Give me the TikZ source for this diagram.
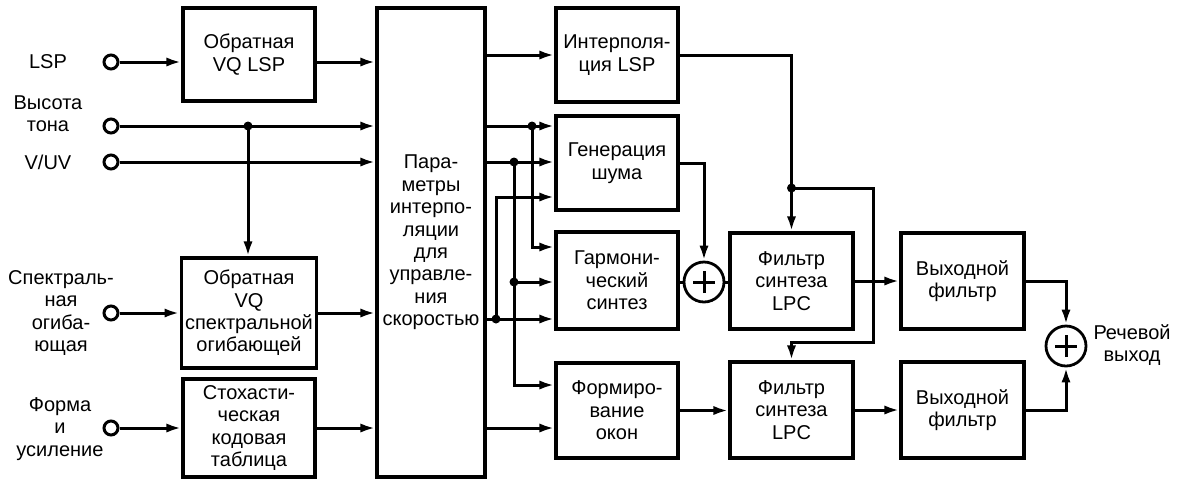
\documentclass[tikz,border=0pt]{standalone}
\usepackage{fontspec}
\setmainfont{Liberation Sans}
\usetikzlibrary{arrows.meta}
\tikzset{
  every picture/.style={line width=1.5pt},
  txt/.style={font=\fontsize{10}{11.2}\selectfont, align=center, inner sep=1pt},
  box/.style={txt, draw, line width=1.6pt, inner sep=2pt},
  port/.style={circle, draw, fill=white, minimum size=7pt, inner sep=0pt, line width=1.5pt},
  dot/.style={circle, fill, minimum size=4.5pt, inner sep=0pt},
  sum/.style={circle, draw, minimum size=20pt, inner sep=0pt, line width=1.4pt,
    path picture={\draw[line width=1.5pt]
      ([xshift=-5.5pt]path picture bounding box.center) -- ([xshift=5.5pt]path picture bounding box.center)
      ([yshift=-5.5pt]path picture bounding box.center) -- ([yshift=5.5pt]path picture bounding box.center);}},
  arrow/.style={-{Latex[length=7.5pt,width=4.6pt]}},
}

\begin{document}
\begin{tikzpicture}[x=0.5pt, y=-0.5pt]
  \useasboundingbox (0,0) rectangle (1184,479);
  \node[port] (pLSP) at (111,62) {};
  \node[port] (pTone) at (111,126) {};
  \node[port] (pVUV) at (111,162) {};
  \node[port] (pEnv) at (111,313) {};
  \node[port] (pGain) at (111,428) {};
  \node[txt] (lLSP) at (48,62) {LSP};
  \node[txt] (lTone) at (48,114) {Высота\\тона};
  \node[txt] (lVUV) at (48,162) {V/UV};
  \node[txt] (lEnv) at (61,313) {Спектраль-\\ная\\огиба-\\ющая};
  \node[txt] (lGain) at (60,429) {Форма\\и\\усиление};

  \node[box, minimum width=66pt, minimum height=46.5pt] (invlsp) at (249,54.5) {Обратная\\VQ LSP};
  \node[box, minimum width=66pt, minimum height=55pt] (invenv) at (249,313) {Обратная\\VQ\\спектральной\\огибающей};
  \node[box, minimum width=66pt, minimum height=49pt] (stoch) at (249,428) {Стохасти-\\ческая\\кодовая\\таблица};
  \node[box, minimum width=54pt, minimum height=234.5pt] (param) at (431,242.5) {Пара-\\метры\\интерпо-\\ляции\\для\\управле-\\ния\\скоростью};
  \node[box, minimum width=61pt, minimum height=47pt] (interp) at (617,55) {Интерполя-\\ция LSP};
  \node[box, minimum width=61pt, minimum height=47pt] (noise) at (617,163) {Генерация\\шума};
  \node[box, minimum width=61pt, minimum height=48.5pt] (harm) at (617,280.5) {Гармони-\\ческий\\синтез};
  \node[box, minimum width=61pt, minimum height=47.5pt] (window) at (617,410.5) {Формиро-\\вание\\окон};
  \node[box, minimum width=61.5pt, minimum height=48pt] (lpcA) at (791.5,281) {Фильтр\\синтеза\\LPC};
  \node[box, minimum width=61.5pt, minimum height=48pt] (lpcB) at (791.5,410) {Фильтр\\синтеза\\LPC};
  \node[box, minimum width=61.5pt, minimum height=48pt] (outA) at (962.5,281) {Выходной\\фильтр};
  \node[box, minimum width=61.5pt, minimum height=48pt] (outB) at (962.5,410) {Выходной\\фильтр};
  \node[sum] (sumA) at (704,282) {};
  \node[sum] (sumB) at (1066,346) {};
  \node[txt, anchor=west] (speech) at (1090,345) {Речевой\\выход};

  \node[dot] (dTone) at (248,126) {};
  \node[dot] (dA) at (532,126) {};
  \node[dot] (dB) at (514,162) {};
  \node[dot] (dB2) at (514,282) {};
  \node[dot] (dC) at (496,319) {};
  \node[dot] (dL) at (791.5,188) {};
  \coordinate (kN) at (496,197);
  \coordinate (kH) at (532,247);
  \coordinate (kW) at (514,385);
  \coordinate (kL) at (873,342);

  \draw[arrow] (pLSP) -- (pLSP -| invlsp.west);
  \draw[arrow] (pLSP -| invlsp.east) -- (pLSP -| param.west);
  \draw[arrow] (pTone) -- (pTone -| param.west);
  \draw[arrow] (dTone.center) -- (dTone |- invenv.north);
  \draw[arrow] (pVUV) -- (pVUV -| param.west);
  \draw[arrow] (pEnv) -- (invenv.west);
  \draw[arrow] (invenv.east) -- (invenv.east -| param.west);
  \draw[arrow] (pGain) -- (stoch.west);
  \draw[arrow] (stoch.east) -- (stoch.east -| param.west);

  \draw[arrow] (interp.west -| param.east) -- (interp.west);
  \draw[arrow] (pTone -| param.east) -- (pTone -| noise.west);
  \draw[arrow] (pVUV -| param.east) -- (pVUV -| noise.west);
  \draw[arrow] (dC -| param.east) -- (dC -| harm.west);
  \draw[arrow] (stoch.east -| param.east) -- (stoch.east -| window.west);
  \draw[arrow] (dA.center) -- (kH) -- (kH -| harm.west);
  \draw[arrow] (dB.center) -- (kW) -- (kW -| window.west);
  \draw[arrow] (dB2.center) -- (dB2 -| harm.west);
  \draw[arrow] (dC.center) -- (kN) -- (kN -| noise.west);

  \draw[arrow] (noise.east) -| (sumA.north);
  \draw (sumA.west -| harm.east) -- (sumA.west);
  \draw (sumA.east) -- (sumA.east -| lpcA.west);
  \draw[arrow] (interp.east) -| (lpcA.north);
  \draw[arrow] (dL.center) -| (kL) -| (lpcB.north);
  \draw[arrow] (window.east) -- (window.east -| lpcB.west);
  \draw[arrow] (lpcA) -- (outA);
  \draw[arrow] (lpcB) -- (outB);
  \draw[arrow] (outA.east) -| (sumB.north);
  \draw[arrow] (outB.east) -| (sumB.south);
\end{tikzpicture}
\end{document}
